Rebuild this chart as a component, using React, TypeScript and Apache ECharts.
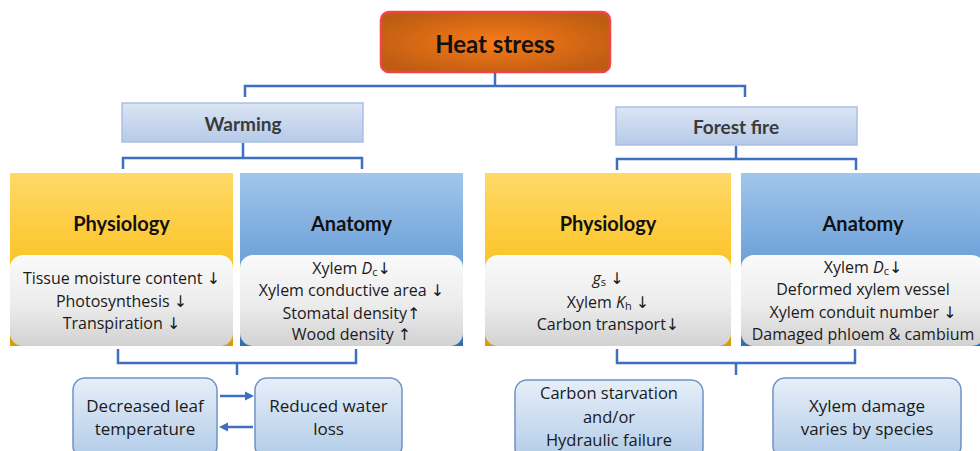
import React, { useEffect, useRef } from "react";
import * as echarts from "echarts";

const rootLabel = "Heat stress";
const branchLabels = ["Warming", "Forest fire"];
const panelTitles = ["Physiology", "Anatomy"];
const warmingPhysiology = ["Tissue moisture content ↓", "Photosynthesis ↓", "Transpiration ↓"];
const warmingAnatomy = ["Xylem {i|D}{sub|c}↓", "Xylem conductive area ↓", "Stomatal density↑", "Wood density ↑"];
const firePhysiology = ["{i|g}{sub|s} ↓", "Xylem {i|K}{sub|h} ↓", "Carbon transport↓"];
const fireAnatomy = ["Xylem {i|D}{sub|c}↓", "Deformed xylem vessel", "Xylem conduit number ↓", "Damaged phloem & cambium"];
const warmingOutcomes = [["Decreased leaf", "temperature"], ["Reduced water", "loss"]];
const fireOutcomes = [["Carbon starvation", "and/or", "Hydraulic failure"], ["Xylem damage", "varies by species"]];

const BOLD = "Lato, 'DejaVu Sans', sans-serif";
const BODY = "'Open Sans', 'DejaVu Sans', sans-serif";
const LINE = "#3f6fc0";

const lin = (stops: [number, string][]) => ({
  type: "linear", x: 0, y: 0, x2: 0, y2: 1,
  colorStops: stops.map(([offset, color]) => ({ offset, color })),
});

const rich = {
  i: { fontStyle: "italic", fontSize: 16, fontFamily: BODY, fill: "#1a1a1a", lineHeight: 18 },
  sub: { fontSize: 11, fontFamily: BODY, fill: "#1a1a1a", lineHeight: 10, verticalAlign: "bottom" },
};

function txt(x: number, y: number, text: string, size: number, weight = "normal", color = "#1a1a1a", family = BODY) {
  return {
    type: "text", x, y, z: 10,
    style: {
      text, fontSize: size, fontWeight: weight, fontFamily: family, fill: color,
      align: "center", verticalAlign: "middle", lineHeight: 18, rich,
    },
  };
}

function poly(points: number[][]) {
  return { type: "polyline", z: 5, shape: { points }, style: { stroke: LINE, lineWidth: 2.5, fill: null } };
}

function bracket(x1: number, x2: number, yEnd: number, yBar: number, xs: number, yStem: number) {
  return [poly([[x1, yEnd], [x1, yBar], [x2, yBar], [x2, yEnd]]), poly([[xs, yBar], [xs, yStem]])];
}

function panel(x: number, w: number, kind: "y" | "b", title: string, lines: string[], ys: number[]) {
  const top = 173, bottom = 346, innerTop = 255;
  const fill = kind === "y"
    ? lin([[0, "#ffd968"], [0.5, "#fbc52a"], [1, "#d99d00"]])
    : lin([[0, "#a2c6ea"], [0.5, "#6ea2da"], [1, "#2f6cb9"]]);
  const els: any[] = [
    { type: "rect", z: 1, shape: { x, y: top, width: w, height: bottom - top }, style: { fill } },
    {
      type: "rect", z: 2, shape: { x, y: innerTop, width: w, height: bottom - innerTop, r: 13 },
      style: { fill: lin([[0, "#fafafa"], [0.55, "#ececec"], [1, "#d2d2d2"]]) },
    },
    txt(x + w / 2, 223, title, 20, "bold", "#111", BOLD),
  ];
  lines.forEach((l, k) => els.push(txt(x + w / 2, ys[k], l, 16)));
  return els;
}

function outcome(x: number, y: number, w: number, h: number, lines: string[], ys: number[], size = 17) {
  const els: any[] = [
    {
      type: "rect", z: 3, shape: { x, y, width: w, height: h, r: 12 },
      style: { fill: lin([[0, "#e6eff9"], [1, "#b2cbe8"]]), stroke: "#6f93c6", lineWidth: 1.5 },
    },
  ];
  lines.forEach((l, k) => els.push(txt(x + w / 2, ys[k], l, size)));
  return els;
}

export default function App() {
  const ref = useRef<HTMLDivElement>(null);
  useEffect(() => {
    const chart = echarts.init(ref.current!, undefined, { renderer: "svg" });
    const elements: any[] = [
      // root
      {
        type: "rect", z: 3, shape: { x: 381, y: 12, width: 229, height: 60, r: 8 },
        style: {
          fill: { type: "radial", x: 0.5, y: 0.5, r: 0.6, colorStops: [{ offset: 0, color: "#f87a18" }, { offset: 1, color: "#bd5c12" }] },
          stroke: "#ef4545", lineWidth: 2.5,
        },
      },
      txt(495, 43, rootLabel, 24, "bold", "#111", BOLD),
      ...bracket(245, 745, 97, 86, 495, 73),
      // branches
      {
        type: "rect", z: 3, shape: { x: 122, y: 103, width: 241, height: 39 },
        style: { fill: lin([[0, "#dbe5f4"], [1, "#b6cae8"]]), stroke: "#a9c0e3", lineWidth: 1.5 },
      },
      txt(243, 123, branchLabels[0], 19, "bold", "#3a3a3a", BOLD),
      {
        type: "rect", z: 3, shape: { x: 616, y: 107, width: 241, height: 38 },
        style: { fill: lin([[0, "#dbe5f4"], [1, "#b6cae8"]]), stroke: "#a9c0e3", lineWidth: 1.5 },
      },
      txt(736, 126, branchLabels[1], 19, "bold", "#3a3a3a", BOLD),
      ...bracket(123, 362, 169, 158, 243, 143),
      ...bracket(617, 856, 170, 159, 736, 146),
      // panels
      ...panel(10, 223, "y", panelTitles[0], warmingPhysiology, [278, 301, 323]),
      ...panel(240, 223, "b", panelTitles[1], warmingAnatomy, [268, 290, 313, 334]),
      ...panel(485, 246, "y", panelTitles[0], firePhysiology, [278, 302, 324]),
      ...panel(741, 244, "b", panelTitles[1], fireAnatomy, [267, 289, 312, 334]),
      // lower brackets
      ...bracket(118, 356, 349, 363, 237, 375),
      ...bracket(617, 855, 349, 363, 736, 375),
      // outcomes
      ...outcome(73, 378, 144, 80, warmingOutcomes[0], [405, 428]),
      ...outcome(255, 378, 147, 80, warmingOutcomes[1], [405, 428]),
      ...outcome(515, 380, 188, 80, fireOutcomes[0], [392, 416, 439], 16.5),
      ...outcome(773, 378, 188, 80, fireOutcomes[1], [405, 428]),
      // arrows
      poly([[220, 396], [247, 396]]),
      { type: "polygon", z: 6, shape: { points: [[245, 391.5], [254, 396], [245, 400.5]] }, style: { fill: LINE } },
      poly([[226, 427], [253, 427]]),
      { type: "polygon", z: 6, shape: { points: [[228, 422.5], [219, 427], [228, 431.5]] }, style: { fill: LINE } },
    ];
    chart.setOption({ animation: false, backgroundColor: "#ffffff", graphic: { elements } });
    return () => chart.dispose();
  }, []);
  return <div ref={ref} style={{ position: "absolute", left: 0, top: 0, width: 980, height: 451 }} />;
}
